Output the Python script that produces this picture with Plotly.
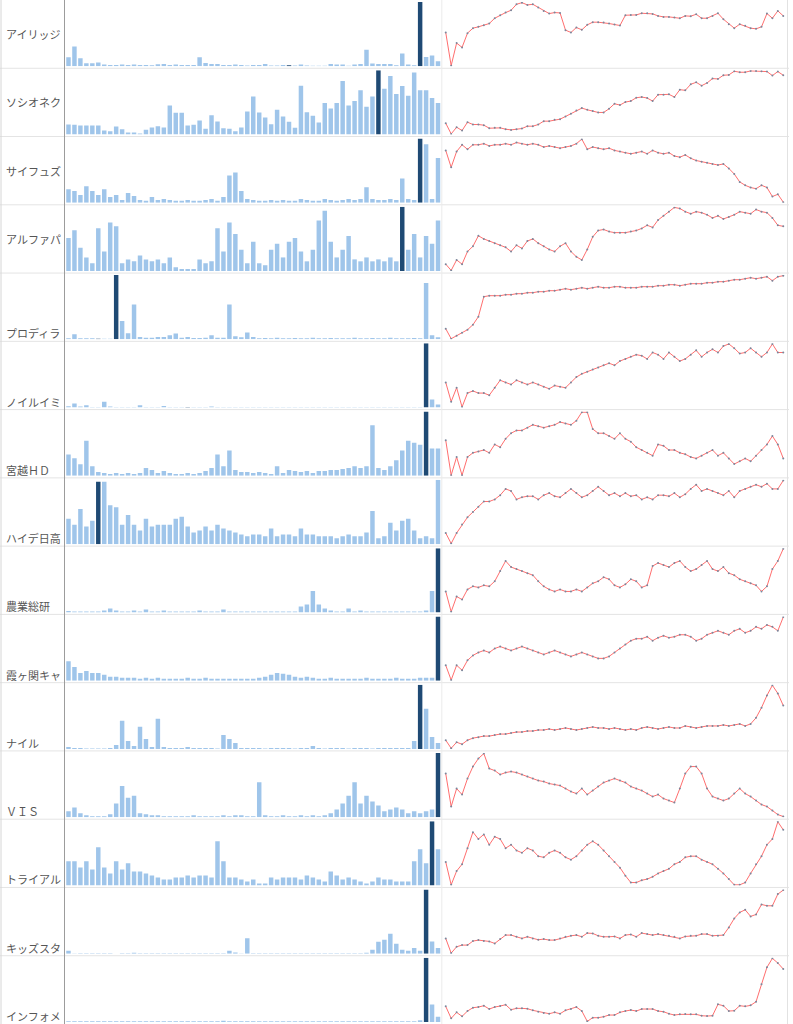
import plotly.graph_objects as go

# ---------------- data ----------------
names = ["アイリッジ", "ソシオネク", "サイフュズ", "アルファパ", "プロディラ", "ノイルイミ", "宮越ＨＤ",
         "ハイデ日高", "農業総研", "霞ヶ関キャ", "ナイル", "ＶＩＳ", "トライアル", "キッズスタ", "インフォメ"]

vol_01 = [9, 19.7, 8, 3, 3, 3.7, 1.7, 1.3, 1.3, 1.7, 1.3, 1.7, 1.3, 1.3, 1, 2, 2.3, 1.3, 1.7, 1.3, 1.3, 1.3, 9, 3.3, 2.3, 2.3, 1.3, 1.3, 1.7, 1.3, 0.7, 1.3, 1.3, 2.3, 0.7, 0.7, 1.3, 1, 0.7, 1.7, 0.7, 0.5, 0.5, 0.5, 2.3, 1.7, 1.7, 0.5, 1.7, 2.3, 16.3, 2.7, 2.3, 2.3, 2.3, 1, 12.7, 1.7, 1, 63.7, 9.3, 10.7, 5]
vol_02 = [10, 9.7, 9, 9, 9, 9, 4, 3.3, 8, 5.3, 2, 2, 1, 4.7, 7, 8.3, 7, 29, 21.7, 21.7, 9, 9.7, 14, 5.7, 19.3, 13, 6.3, 5.7, 3.3, 7, 23, 38, 22, 17, 10.3, 24.7, 18, 12.7, 6.7, 48.7, 22.3, 18.7, 12, 31.3, 26, 31.3, 53.3, 29, 33.3, 44, 27.7, 38, 64, 45.7, 58.3, 40.3, 48.3, 38.7, 61.7, 44, 44, 36.3, 31.3]
vol_03 = [14, 12, 8, 17, 12, 8, 14, 6, 8, 3, 10, 7, 3, 2, 6, 3, 4, 3, 2, 2, 3, 2, 2, 3, 4, 2, 6, 28, 31, 12, 4, 3, 2, 2, 3, 2, 3, 2, 2, 4, 3, 2, 2, 4, 3, 2, 3, 4, 3, 4, 16, 4, 3, 3, 4, 3, 25, 4, 3, 66, 60, 4, 46]
vol_04 = [34, 42, 24, 14, 8, 44, 20, 50, 46, 8, 12, 10, 16, 12, 10, 12, 8, 14, 4, 2, 2, 2, 12, 8, 10, 44, 20, 50, 38, 22, 8, 30, 8, 6, 22, 28, 14, 30, 34, 20, 10, 22, 52, 62, 30, 14, 22, 36, 12, 10, 14, 10, 12, 10, 14, 10, 66, 22, 38, 14, 36, 28, 52]
vol_05 = [1, 5, 1, 1, 1, 0.7, 0.7, 0.7, 64, 18.3, 6, 34.7, 2.3, 1.7, 1.7, 2.3, 2.3, 4, 5.7, 1.7, 2.3, 1.3, 1.3, 1.7, 4, 1.7, 1.7, 34.7, 3, 2, 6.7, 2.3, 1, 1.3, 1, 1.5, 1, 1, 1.3, 1, 1, 1.5, 1, 1, 1.3, 1, 1, 1, 1.5, 1, 1, 1.3, 1, 1, 1.5, 1, 1, 1, 1.3, 1, 56, 4, 2]
vol_06 = [1.3, 4, 1, 2.3, 0.7, 0.7, 5.7, 1, 0.7, 0.7, 0.7, 0.7, 2.3, 0.7, 0.7, 0.7, 1.7, 0.7, 0.7, 0.7, 0.7, 0.7, 0.7, 0.7, 1, 0.7, 0.7, 0.7, 0.7, 0.7, 0.7, 0.7, 0.7, 0.7, 0.7, 0.7, 0.7, 0.7, 0.7, 0.7, 0.7, 0.7, 0.7, 0.7, 0.7, 0.7, 0.7, 0.7, 0.7, 0.7, 0.7, 0.7, 0.7, 0.7, 0.7, 0.7, 0.7, 0.7, 0.7, 0.7, 64, 8, 3]
vol_07 = [22, 18, 12, 36, 10, 4, 3, 2, 3, 2, 3, 2, 3, 8, 6, 3, 5, 3, 2, 2, 3, 2, 3, 5, 8, 22, 10, 26, 6, 4, 4, 3, 4, 3, 2, 10, 3, 6, 5, 4, 5, 3, 5, 5, 6, 6, 7, 8, 10, 8, 10, 52, 8, 6, 10, 16, 26, 36, 34, 32, 66, 28, 28]
vol_08 = [26, 20, 36, 18, 24, 64, 64, 40, 38, 20, 30, 20, 14, 26, 18, 20, 20, 20, 26, 28, 18, 12, 14, 18, 14, 20, 16, 14, 12, 10, 8, 10, 10, 8, 16, 8, 10, 10, 8, 16, 10, 10, 8, 8, 8, 6, 8, 10, 8, 8, 12, 34, 6, 8, 22, 14, 24, 26, 14, 6, 8, 6, 66]
vol_09 = [1.5, 1, 1, 1, 1, 1, 2, 4, 2, 1, 1, 2, 1, 3, 1, 1, 2, 1, 1, 1, 1, 1, 2, 1, 1, 1, 3, 1, 1, 1, 1, 1, 1, 1, 1, 1, 1, 1, 1, 6, 8, 22, 8, 4, 2, 1, 1, 4, 1, 2, 1, 1, 1, 1, 1, 1, 1, 1, 1, 1, 2, 22, 66]
vol_10 = [20, 14, 8, 10, 8, 8, 6, 4, 4, 3, 3, 3, 2, 3, 2, 3, 2, 2, 2, 2, 3, 2, 2, 3, 2, 2, 2, 2, 2, 2, 2, 2, 3, 4, 6, 8, 7, 6, 4, 3, 4, 3, 2, 2, 3, 2, 2, 2, 2, 2, 3, 2, 2, 2, 2, 3, 2, 2, 2, 3, 3, 3, 66]
vol_11 = [2, 1, 1, 0.5, 0.5, 0.5, 0.5, 1, 4, 28, 8, 3, 22, 10, 2, 30, 2, 1, 1, 1, 2, 1, 1, 1, 1, 0.5, 14, 10, 6, 1, 1, 1, 1, 0.5, 1, 1, 1, 1, 0.5, 1, 1, 3, 1, 0.5, 1, 1, 1, 0.5, 1, 1, 1, 0.5, 1, 1, 1, 1, 1, 1, 8, 64, 40, 12, 6]
vol_12 = [6, 10, 4, 2, 1, 1, 1, 3, 14, 32, 20, 22, 4, 3, 2, 2, 1, 1, 1, 1, 1, 2, 1, 1, 1, 1, 2, 1, 2, 2, 1, 1, 36, 2, 1, 1, 2, 1, 1, 2, 1, 2, 1, 2, 4, 8, 14, 22, 36, 14, 22, 16, 12, 6, 8, 10, 8, 4, 6, 4, 6, 8, 66]
vol_13 = [24, 24, 18, 24, 16, 38, 18, 12, 24, 16, 22, 14, 14, 12, 10, 8, 6, 6, 8, 8, 10, 8, 10, 10, 8, 44, 24, 8, 8, 6, 4, 6, 2, 2, 8, 6, 8, 8, 8, 6, 10, 8, 6, 4, 14, 10, 6, 8, 6, 4, 2, 4, 8, 6, 6, 4, 4, 4, 24, 36, 22, 64, 36]
vol_14 = [3, 0.3, 0.5, 0.5, 0.5, 0.5, 0.5, 0.5, 0, 0.5, 0.5, 1, 0.5, 0.5, 0.5, 0.5, 0.5, 0.5, 0.5, 0.5, 0.5, 0.5, 0.5, 0.5, 0.5, 0.5, 0.5, 3, 1.3, 0.3, 15.3, 0.5, 0.5, 0.5, 0.5, 0.5, 0.5, 0.5, 0.5, 0.5, 0.5, 0.5, 0.5, 0.5, 0.5, 0.5, 0.5, 0.5, 0.5, 0.5, 1, 4, 12, 14, 20, 10, 4, 3, 5.7, 3, 64, 12.3, 5.7]
vol_15 = [0.7, 0.7, 0.7, 0.7, 0.7, 0.7, 0.7, 0.7, 0.7, 0.7, 0.7, 0.7, 0.7, 0.7, 0.7, 0.7, 0.7, 0.7, 0.7, 0.7, 0.7, 0.7, 0.7, 0.7, 0.7, 0.7, 1.3, 0.7, 0.7, 0.7, 0.7, 0.7, 0.7, 0.7, 0.7, 0.7, 0.7, 0.7, 0.7, 0.7, 0.7, 0.7, 0.7, 0.7, 0.7, 0.7, 0.7, 0.7, 0.7, 0.7, 0.7, 0.7, 0.7, 0.7, 0.7, 0.7, 0.7, 0.7, 0.7, 1.7, 64, 17.3, 5.3]

# highlighted (dark) bars per row
hi_01 = [37, 59]
hi_02 = [52]
hi_03 = [59]
hi_04 = [56]
hi_05 = [5, 8]
hi_06 = [20, 60]
hi_07 = [60]
hi_08 = [5]
hi_09 = [62]
hi_10 = [62]
hi_11 = [59]
hi_12 = [62]
hi_13 = [61]
hi_14 = [60]
hi_15 = [60]

price_01 = [105, 5, 73, 60, 103, 118, 122, 127, 132, 148, 157, 165, 172, 190, 195, 188, 190, 180, 170, 162, 165, 164, 112, 105, 120, 113, 128, 136, 136, 135, 132, 129, 126, 157, 158, 158, 163, 163, 161, 155, 152, 152, 150, 148, 155, 154, 160, 148, 148, 155, 163, 145, 130, 118, 130, 125, 118, 116, 122, 162, 148, 170, 155]
price_02 = [42, 10, 30, 20, 45, 38, 38, 36, 27, 28, 28, 24, 22, 24, 26, 33, 33, 38, 48, 48, 52, 54, 62, 70, 80, 87, 82, 78, 74, 74, 85, 100, 96, 105, 108, 118, 120, 117, 108, 127, 127, 128, 120, 142, 140, 158, 164, 154, 162, 175, 174, 185, 186, 197, 194, 194, 198, 198, 197, 196, 184, 196, 185]
price_03 = [49, 34, 48, 54, 50, 54, 54, 55, 53, 54, 54, 55, 54, 56, 55, 54, 55, 54, 52, 53, 52, 51, 52, 53, 55, 59, 50, 52, 51, 50, 51, 49, 48, 47, 46, 47, 48, 46, 49, 47, 46, 47, 44, 43, 45, 42, 40, 39, 38, 37, 36, 37, 33, 28, 21, 18, 16, 15, 18, 16, 8, 10, 3]
price_04 = [10, 4, 14, 10, 22, 27, 37, 34, 32, 30, 28, 26, 22, 28, 25, 32, 34, 30, 27, 24, 22, 27, 30, 22, 17, 14, 24, 36, 42, 43, 41, 40, 40, 40, 41, 42, 44, 47, 45, 52, 56, 60, 64, 63, 60, 58, 60, 59, 57, 54, 56, 53, 55, 57, 60, 59, 58, 62, 60, 59, 54, 47, 46]
price_05 = [12, 2, 5, 8, 11, 16, 24, 44, 45, 45, 45, 46, 46, 47, 47, 48, 48, 49, 49, 50, 50, 51, 52, 51, 52, 53, 52, 53, 54, 53, 53, 54, 54, 53, 53, 53, 54, 54, 54, 55, 55, 56, 56, 55, 56, 57, 57, 57, 58, 58, 59, 59, 60, 61, 61, 62, 63, 62, 63, 64, 60, 64, 65]
price_06 = [28, 10, 23, 5, 18, 20, 18, 18, 16, 23, 30, 28, 26, 30, 28, 26, 28, 26, 24, 22, 25, 24, 23, 28, 33, 36, 38, 40, 42, 44, 46, 44, 48, 50, 52, 54, 53, 50, 56, 54, 50, 56, 52, 48, 50, 54, 58, 52, 56, 59, 56, 62, 64, 60, 55, 56, 60, 56, 52, 56, 64, 56, 56]
price_07 = [43, 18, 31, 18, 31, 34, 35, 36, 34, 40, 38, 44, 48, 50, 50, 52, 54, 53, 52, 53, 54, 56, 55, 54, 57, 63, 63, 51, 48, 48, 46, 44, 48, 44, 42, 38, 36, 34, 32, 40, 39, 36, 36, 34, 33, 31, 30, 32, 34, 36, 32, 34, 30, 26, 28, 30, 28, 32, 36, 40, 46, 40, 30]
price_08 = [14, 4, 14, 22, 29, 34, 39, 44, 44, 46, 50, 56, 54, 46, 48, 49, 49, 46, 50, 52, 49, 48, 52, 56, 52, 48, 50, 54, 58, 54, 50, 52, 49, 52, 49, 50, 46, 48, 46, 50, 50, 49, 52, 48, 51, 56, 60, 54, 56, 54, 52, 50, 54, 48, 54, 56, 58, 60, 58, 61, 56, 56, 64]
price_09 = [24, 4, 19, 16, 26, 29, 28, 30, 29, 34, 44, 54, 48, 46, 44, 42, 40, 34, 29, 26, 24, 26, 24, 24, 26, 24, 28, 32, 34, 38, 36, 30, 28, 31, 36, 34, 28, 30, 49, 52, 50, 48, 52, 54, 48, 44, 46, 50, 54, 46, 44, 48, 42, 40, 36, 34, 32, 30, 24, 29, 46, 54, 66]
price_10 = [17, 2, 17, 12, 22, 27, 30, 32, 30, 34, 36, 34, 32, 34, 36, 34, 32, 30, 28, 30, 32, 30, 28, 26, 28, 30, 28, 26, 24, 24, 26, 30, 34, 38, 42, 44, 44, 46, 42, 45, 47, 45, 46, 48, 48, 46, 42, 44, 48, 50, 52, 50, 48, 52, 54, 50, 52, 56, 54, 58, 56, 52, 66]
price_11 = [10, 2, 8, 6, 10, 12, 13, 14, 14, 15, 16, 16, 17, 18, 18, 19, 19, 20, 20, 21, 20, 21, 22, 21, 20, 21, 22, 23, 22, 22, 21, 22, 21, 20, 21, 20, 22, 23, 22, 21, 22, 23, 22, 22, 24, 23, 22, 23, 24, 24, 24, 25, 24, 25, 26, 24, 26, 32, 42, 54, 64, 56, 44]
price_12 = [44, 11, 29, 23, 39, 51, 59, 64, 49, 47, 43, 45, 46, 45, 43, 41, 39, 37, 36, 34, 33, 32, 29, 26, 24, 29, 23, 27, 31, 35, 37, 39, 37, 35, 31, 29, 27, 24, 21, 23, 19, 17, 15, 29, 44, 51, 51, 44, 29, 21, 19, 17, 19, 24, 29, 24, 21, 17, 13, 11, 7, 3, 1]
price_13 = [28, 8, 20, 26, 40, 54, 48, 52, 43, 50, 48, 40, 43, 38, 36, 40, 38, 33, 32, 36, 38, 36, 32, 30, 33, 38, 43, 46, 43, 38, 33, 28, 23, 16, 10, 10, 12, 13, 15, 18, 20, 22, 26, 28, 32, 33, 33, 30, 28, 26, 22, 18, 13, 8, 8, 10, 18, 26, 33, 43, 48, 63, 56]
price_14 = [52, 8, 27, 32, 32, 44, 47, 44, 43, 37, 50, 62, 62, 57, 52, 57, 52, 48, 50, 47, 47, 52, 57, 60, 62, 57, 68, 67, 60, 57, 57, 58, 52, 62, 64, 57, 68, 65, 62, 65, 62, 60, 57, 52, 58, 60, 60, 65, 65, 60, 60, 62, 85, 112, 130, 138, 118, 124, 154, 150, 150, 185, 197]
price_15 = [48, 12, 30, 18, 34, 44, 46, 50, 40, 46, 49, 53, 38, 42, 42, 41, 36, 32, 28, 26, 30, 26, 36, 40, 46, 34, 3, 14, 14, 17, 22, 22, 30, 34, 37, 34, 40, 40, 40, 34, 32, 26, 22, 24, 25, 24, 24, 20, 19, 20, 54, 50, 34, 35, 50, 48, 51, 62, 114, 165, 192, 178, 160]

vols = [vol_01, vol_02, vol_03, vol_04, vol_05, vol_06, vol_07, vol_08, vol_09, vol_10, vol_11, vol_12, vol_13, vol_14, vol_15]
his = [hi_01, hi_02, hi_03, hi_04, hi_05, hi_06, hi_07, hi_08, hi_09, hi_10, hi_11, hi_12, hi_13, hi_14, hi_15]
prices = [price_01, price_02, price_03, price_04, price_05, price_06, price_07, price_08, price_09, price_10, price_11, price_12, price_13, price_14, price_15]

# ---------------- layout ----------------
W, H = 793, 1024
NR = len(names)
RH = H / NR
BAR_X0, BAR_X1 = 65.5, 441.0
LIN_X0, LIN_X1 = 443.0, 786.0
LIGHT = "#9fc5ea"
DARK = "#1f4a74"

fig = go.Figure()
layout = dict(width=W, height=H, margin=dict(l=0, r=0, t=0, b=0), paper_bgcolor="white",
              plot_bgcolor="rgba(0,0,0,0)", showlegend=False, bargap=0.25)
annotations, shapes = [], []

def ax(n):
    return "" if n == 1 else str(n)

for r in range(NR):
    top = r * RH
    bot = (r + 1) * RH
    ydom = [(H - bot + 2) / H, (H - top - 2) / H]
    nb = 2 * r + 1
    nl = 2 * r + 2
    v = vols[r]
    n = len(v)
    colors = [DARK if i in his[r] else LIGHT for i in range(n)]
    fig.add_trace(go.Bar(x=list(range(n)), y=v, marker=dict(color=colors, line=dict(width=0)),
                         xaxis="x" + ax(nb), yaxis="y" + ax(nb), hoverinfo="skip"))
    p = prices[r]
    fig.add_trace(go.Scatter(x=list(range(len(p))), y=p, mode="lines+markers",
                             line=dict(color="#ff6e6e", width=1),
                             marker=dict(color="#7a879c", size=2),
                             xaxis="x" + ax(nl), yaxis="y" + ax(nl), hoverinfo="skip"))
    common = dict(showgrid=False, zeroline=False, showticklabels=False, showline=False,
                  ticks="", fixedrange=True)
    layout["xaxis" + ax(nb)] = dict(domain=[BAR_X0 / W, BAR_X1 / W], range=[-0.5, n - 0.5],
                                   anchor="y" + ax(nb), **common)
    layout["yaxis" + ax(nb)] = dict(domain=ydom, range=[0, max(v)], anchor="x" + ax(nb), **common)
    pmin, pmax = min(p), max(p)
    pad = (pmax - pmin) * 0.01
    layout["xaxis" + ax(nl)] = dict(domain=[LIN_X0 / W, LIN_X1 / W], range=[-0.5, len(p) - 0.5],
                                   anchor="y" + ax(nl), **common)
    layout["yaxis" + ax(nl)] = dict(domain=ydom, range=[pmin - pad, pmax + pad],
                                   anchor="x" + ax(nl), **common)
    # label
    yc = (top + bot) / 2 if r < 4 else bot - 8
    annotations.append(dict(text=names[r], x=4 / W, y=1 - yc / H, xref="paper", yref="paper",
                            xanchor="left", yanchor="middle", showarrow=False,
                            font=dict(family="Noto Sans CJK JP", size=11, color="#555555")))
    if r > 0:
        shapes.append(dict(type="line", xref="paper", yref="paper", x0=0, x1=789 / W,
                           y0=1 - top / H, y1=1 - top / H, line=dict(color="#e4e4e4", width=1)))

# vertical rules
for xv, col in [(1.0, "#d6d6d6"), (64.5, "#9c9c9c"), (441.8, "#ececec"), (787.5, "#e2e2e2")]:
    shapes.append(dict(type="line", xref="paper", yref="paper", x0=xv / W, x1=xv / W, y0=0, y1=1,
                       line=dict(color=col, width=1)))

layout["annotations"] = annotations
layout["shapes"] = shapes
fig.update_layout(**layout)

fig.write_html("out.html", config={"displayModeBar": False, "staticPlot": True},
               post_script="document.body.style.margin='0';document.body.style.overflow='hidden';")
